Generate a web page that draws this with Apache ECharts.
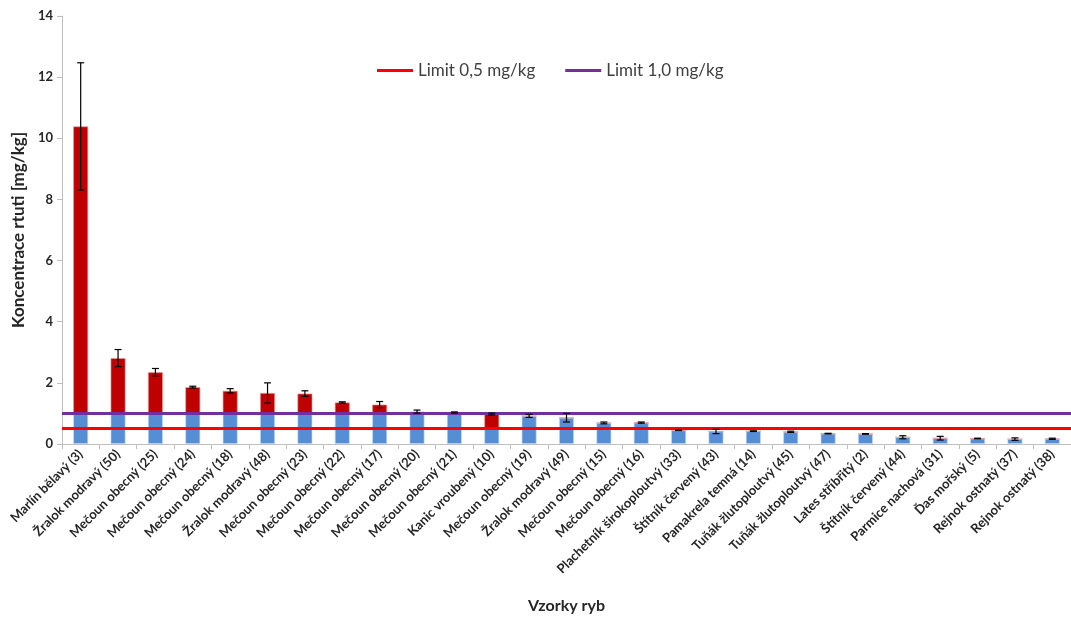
<!DOCTYPE html>
<html>
<head>
<meta charset="utf-8">
<script src="https://cdn.jsdelivr.net/npm/echarts@6/dist/echarts.min.js"></script>
<style>html,body{margin:0;padding:0;background:#fff}#c{width:1071px;height:619px}</style>
</head>
<body>
<div id="c"></div>
<script>
const categories = [
  'Marlín bělavý (3)', 'Žralok modravý (50)', 'Mečoun obecný (25)', 'Mečoun obecný (24)',
  'Mečoun obecný (18)', 'Žralok modravý (48)', 'Mečoun obecný (23)', 'Mečoun obecný (22)',
  'Mečoun obecný (17)', 'Mečoun obecný (20)', 'Mečoun obecný (21)', 'Kanic vroubený (10)',
  'Mečoun obecný (19)', 'Žralok modravý (49)', 'Mečoun obecný (15)', 'Mečoun obecný (16)',
  'Plachetník širokoploutvý (33)', 'Štítník červený (43)', 'Pamakrela temná (14)',
  'Tuňák žlutoploutvý (45)', 'Tuňák žlutoploutvý (47)', 'Lates stříbřitý (2)',
  'Štítník červený (44)', 'Parmice nachová (31)', 'Ďas mořský (5)', 'Rejnok ostnatý (37)',
  'Rejnok ostnatý (38)'
];
const values = [10.39, 2.81, 2.35, 1.86, 1.74, 1.67, 1.65, 1.36, 1.29, 1.06, 1.03, 0.98,
  0.92, 0.86, 0.69, 0.70, 0.45, 0.41, 0.42, 0.40, 0.34, 0.33, 0.22, 0.19, 0.18, 0.16, 0.17];
const errors = [2.08, 0.28, 0.12, 0.03, 0.07, 0.33, 0.09, 0.02, 0.10, 0.05, 0.02, 0.03,
  0.05, 0.14, 0.03, 0.02, 0.01, 0.07, 0.01, 0.02, 0.01, 0.01, 0.05, 0.06, 0.01, 0.04, 0.02];
const limits = [1, 1, 1, 1, 1, 1, 1, 1, 1, 1, 1, 0.5, 1, 1, 1, 1, 1, 1, 1, 1, 1, 1, 1, 1, 1, 1, 1];
const limitLines = [
  { name: 'Limit 0,5 mg/kg', value: 0.5, color: '#FF0000' },
  { name: 'Limit 1,0 mg/kg', value: 1.0, color: '#7030A0' }
];
const yTicks = { min: 0, max: 14, interval: 2 };

const below = values.map((v, i) => Math.min(v, limits[i]));
const above = values.map((v, i) => +(v - Math.min(v, limits[i])).toFixed(3));
const errData = values.map((v, i) => [i, v, errors[i]]);

const FONT = 'Lato';
const chart = echarts.init(document.getElementById('c'), null, { renderer: 'canvas' });

const series = [
  {
    name: 'below', type: 'bar', stack: 'v', data: below, barWidth: 15, z: 2,
    itemStyle: { color: '#558ED5', borderColor: 'rgba(200,220,245,0.8)', borderWidth: 0.8 }
  },
  {
    name: 'above', type: 'bar', stack: 'v', data: above, barWidth: 15, z: 2,
    itemStyle: { color: '#C00000', borderColor: 'rgba(235,150,150,0.8)', borderWidth: 0.8 }
  }
];
limitLines.forEach(l => {
  series.push({
    name: l.name, type: 'line', data: [], symbol: 'none', z: 4,
    itemStyle: { color: l.color }, lineStyle: { color: l.color, width: 3 },
    markLine: {
      silent: true, symbol: 'none', label: { show: false }, z: 4,
      lineStyle: { color: l.color, width: 3, type: 'solid' },
      emphasis: { disabled: true },
      data: [{ yAxis: l.value }]
    }
  });
});
series.push({
  name: 'err', type: 'custom', z: 6, data: errData, silent: true,
  renderItem: function (params, api) {
    const x = api.value(0), v = api.value(1), e = api.value(2);
    const t = api.coord([x, v + e]);
    const b = api.coord([x, v - e]);
    const hw = 3.5;
    const st = { stroke: '#000', lineWidth: 1.2 };
    return {
      type: 'group',
      children: [
        { type: 'line', shape: { x1: t[0], y1: t[1], x2: b[0], y2: b[1] }, style: st },
        { type: 'line', shape: { x1: t[0] - hw, y1: t[1], x2: t[0] + hw, y2: t[1] }, style: st },
        { type: 'line', shape: { x1: b[0] - hw, y1: b[1], x2: b[0] + hw, y2: b[1] }, style: st }
      ]
    };
  }
});

chart.setOption({
  animation: false,
  backgroundColor: '#fff',
  legend: {
    data: limitLines.map(l => ({ name: l.name, icon: 'rect' })),
    left: 372, top: 57, itemWidth: 36, itemHeight: 3, itemGap: 30,
    textStyle: { fontFamily: FONT, fontSize: 17, color: '#404040' }
  },
  grid: { left: 62, top: 16, width: 1015, bottom: 173.5, containLabel: false },
  xAxis: {
    type: 'category', data: categories,
    name: 'Vzorky ryb', nameLocation: 'middle', nameGap: 154,
    nameTextStyle: { fontFamily: FONT, fontSize: 16, fontWeight: 'bold', color: '#262626' },
    axisLine: { lineStyle: { color: '#BFBFBF', width: 1 } },
    axisTick: { show: true, interval: 0, length: 5, lineStyle: { color: '#BFBFBF' } },
    axisLabel: {
      interval: 0, rotate: 45, margin: 8,
      fontFamily: FONT, fontSize: 13, fontWeight: 'bold', color: '#262626'
    }
  },
  yAxis: {
    type: 'value', min: yTicks.min, max: yTicks.max, interval: yTicks.interval,
    name: 'Koncentrace rtuti [mg/kg]', nameLocation: 'middle', nameGap: 34,
    nameTextStyle: { fontFamily: FONT, fontSize: 17, fontWeight: 'bold', color: '#262626' },
    axisLine: { show: true, lineStyle: { color: '#BFBFBF', width: 1 } },
    axisTick: { show: true, length: 5, lineStyle: { color: '#BFBFBF' } },
    splitLine: { show: false },
    axisLabel: { fontFamily: FONT, fontSize: 13, fontWeight: 'bold', color: '#262626', margin: 9 }
  },
  series: series
});
</script>
</body>
</html>
